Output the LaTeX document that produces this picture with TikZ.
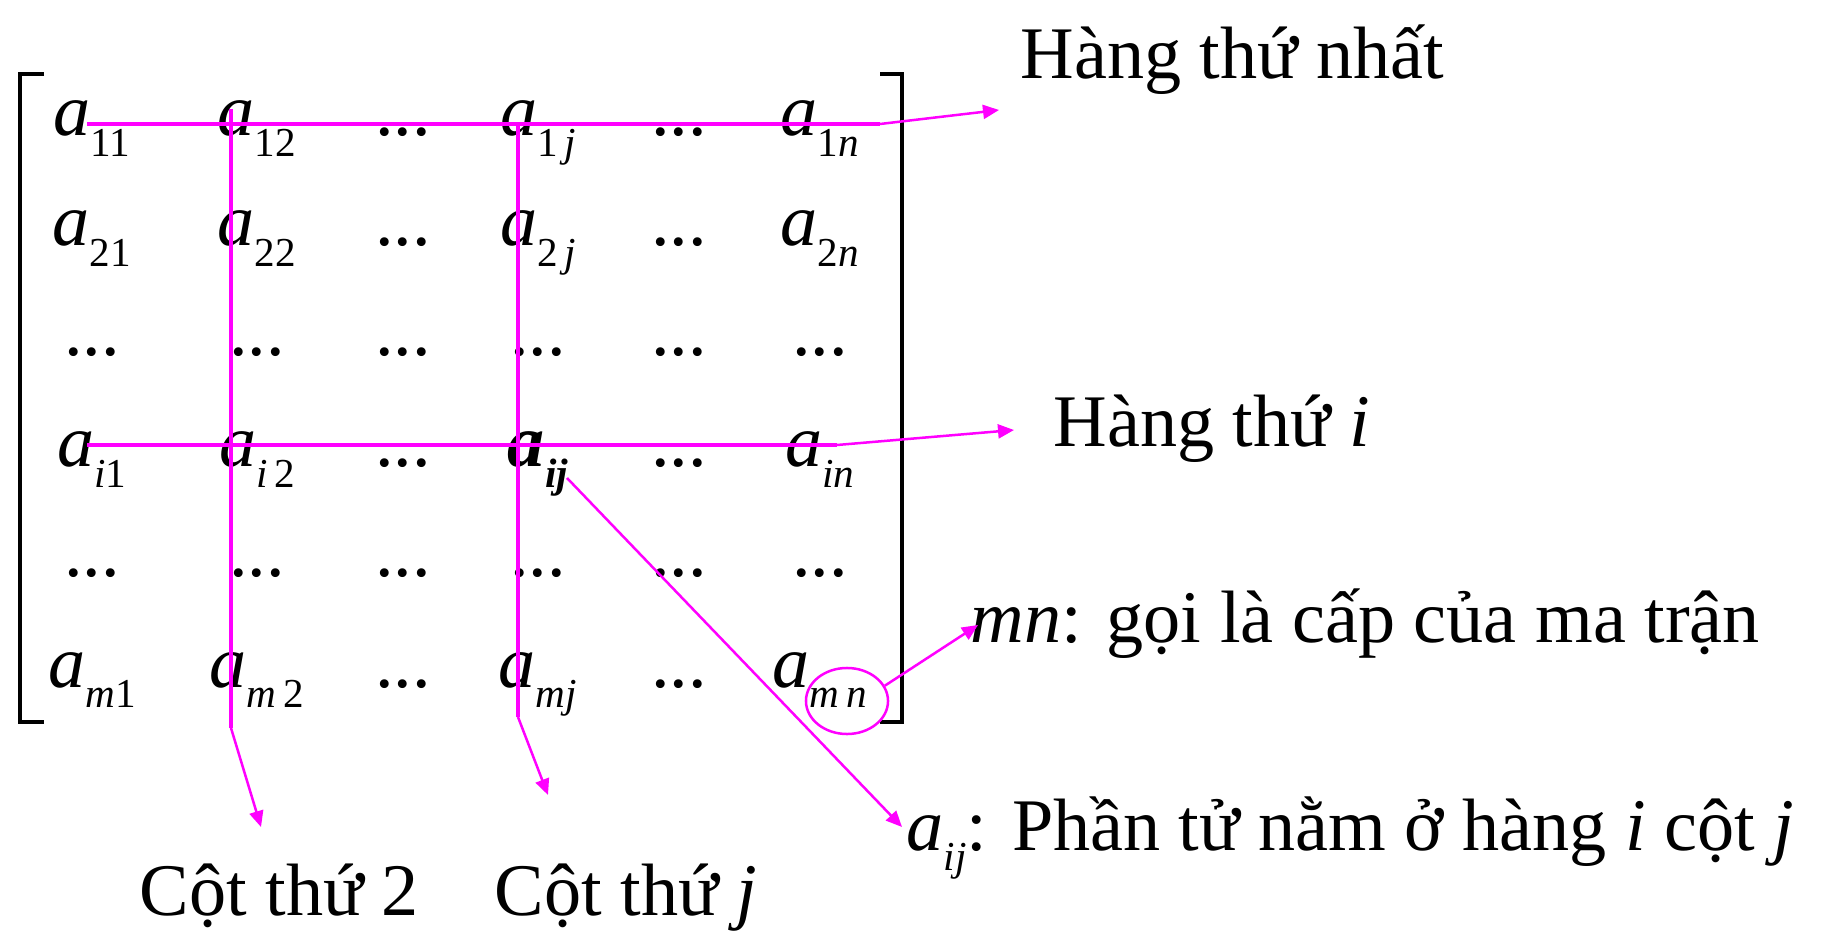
\documentclass[tikz,border=0pt]{standalone}
\usepackage{fontspec}
\setmainfont{Liberation Serif}
\usetikzlibrary{arrows.meta,shapes}
\definecolor{hilite}{RGB}{255,0,255}
\newcommand{\ent}[1]{\textit{a}\raisebox{-0.2cm}{\fontsize{11.7}{13}\selectfont #1}}

\begin{document}
\begin{tikzpicture}[x=0.01cm,y=-0.01cm,font=\fontsize{21.1}{25}\selectfont,
  elem/.style={anchor=base,inner sep=0},
  lbl/.style={anchor=base west,inner sep=0},
  bracket/.style={line width=0.035cm},
  hlline/.style={hilite,line width=0.038cm},
  hlarrow/.style={hilite,line width=0.025cm,-{Triangle[length=0.16cm,width=0.14cm]}}]
\useasboundingbox (0,0) rectangle (1821,937);
% brackets
\draw[bracket] (44,74) -- (20,74) -- (20,722) -- (44,722);
\draw[bracket] (880,74) -- (902,74) -- (902,722) -- (880,722);
% matrix entries
\node[elem] (e11) at (92,136) {\ent{11}};
\node[elem] (e12) at (257,136) {\ent{12}};
\node[elem] (e14) at (538,136) {\ent{1\,\textit{j}}};
\node[elem] (e16) at (820,136) {\ent{1\textit{n}}};
\node[elem] (e21) at (92,246) {\ent{21}};
\node[elem] (e22) at (257,246) {\ent{22}};
\node[elem] (e24) at (538,246) {\ent{2\,\textit{j}}};
\node[elem] (e26) at (820,246) {\ent{2\textit{n}}};
\node[elem] (e41) at (92,467) {\ent{\textit{i}1}};
\node[elem] (e42) at (257,467) {\ent{\textit{i}\,2}};
\node[elem] (e44) at (538,467) {\textbf{\textit{a}}\raisebox{-0.2cm}{\fontsize{11.7}{13}\selectfont\bfseries\textit{ij}}};
\node[elem] (e46) at (820,467) {\ent{\textit{in}}};
\node[elem] (e61) at (92,687) {\ent{\textit{m}1}};
\node[elem] (e62) at (257,687) {\ent{\textit{m}\,2}};
\node[elem] (e64) at (538,687) {\ent{\textit{mj}}};
\node[elem] (e66) at (820,687) {\ent{\textit{m\,n}}};
\foreach \r/\y in {1/136,2/246,4/467,6/687} {
  \node[elem] (e\r3) at (403,\y) {...};
  \node[elem] (e\r5) at (679,\y) {...};
}
\foreach \r/\y in {3/356,5/577}
  \foreach \x [count=\c] in {92,257,403,538,679,820}
    \node[elem] (e\r\c) at (\x,\y) {...};
% labels
\node[lbl] (row1) at (1020,79) {Hàng thứ nhất};
\node[lbl] (rowi) at (1053,446) {Hàng thứ \textit{i}};
\node[lbl] (order) at (970,642) {\textit{mn}: gọi là cấp của ma trận};
\node[lbl] (elemij) at (906,850) {\ent{\textit{ij}}: Phần tử nằm ở hàng \textit{i} cột \textit{j}};
\node[lbl] (col2) at (139,915) {Cột thứ 2};
\node[lbl] (colj) at (494,915) {Cột thứ \textit{j}};
% highlight points
\coordinate (r1a) at (87,124);
\coordinate (r1b) at (880,124);
\coordinate (r1t) at (999,110);
\coordinate (ria) at (87,445);
\coordinate (rib) at (837,445);
\coordinate (rit) at (1014,430);
\coordinate (c2a) at (231,109);
\coordinate (c2b) at (231,728);
\coordinate (c2t) at (261,827);
\coordinate (cja) at (518,124);
\coordinate (cjb) at (518,717);
\coordinate (cjt) at (548,795);
\coordinate (ija) at (567,478);
\coordinate (ijt) at (902,827);
\coordinate (mnt) at (978,625);
\node[draw=hilite,line width=0.025cm,ellipse,minimum width=0.82cm,minimum height=0.66cm,inner sep=0] (ring) at (847,701) {};
% rows and columns
\draw[hlline] (r1a) -- (r1b);
\draw[hlline] (ria) -- (rib);
\draw[hlline] (c2a) -- (c2b);
\draw[hlline] (cja) -- (cjb);
\draw[hlarrow] (r1b) -- (r1t);
\draw[hlarrow] (rib) -- (rit);
\draw[hlarrow] (c2b) -- (c2t);
\draw[hlarrow] (cjb) -- (cjt);
\draw[hlarrow] (ija) -- (ijt);
\draw[hlarrow] (ring.22) -- (mnt);
\end{tikzpicture}
\end{document}
